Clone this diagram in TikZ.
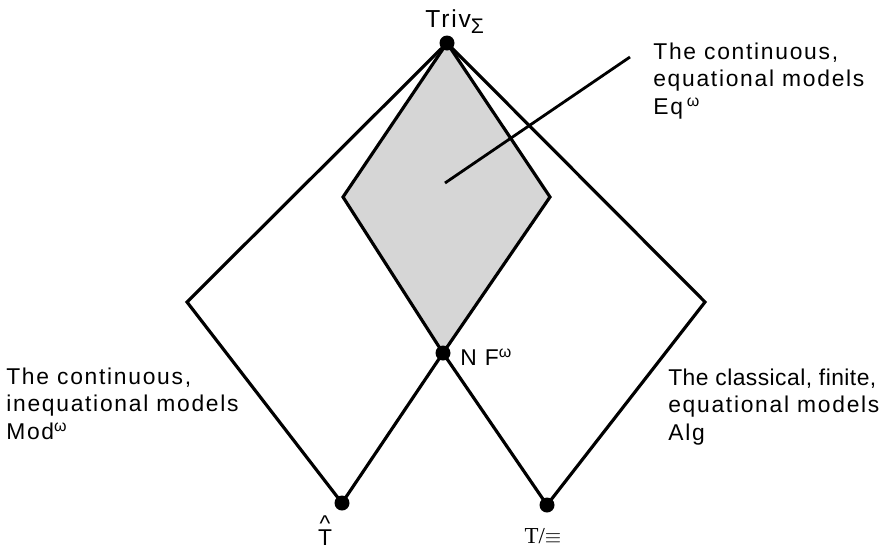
\documentclass[tikz,border=0pt]{standalone}
\usepackage{fontspec}
\setmainfont{Liberation Sans}[LetterSpace=7.5]
\newfontfamily\quotfont{Liberation Serif}
\usetikzlibrary{positioning}

\begin{document}
\begin{tikzpicture}[x=0.02cm, y=-0.02cm,
  edge/.style={line width=1.8pt, line join=miter},
  dot/.style={circle, fill=black, inner sep=0pt, minimum size=0.3cm},
  region/.style={fill=black!16},
  lab/.style={font=\fontsize{13}{15.4}\selectfont, inner sep=0pt},
  note/.style={lab, align=left, anchor=north west}
]
  \useasboundingbox (0,0) rectangle (893,552);
  % corners
  \coordinate (triv) at (447,43);
  \coordinate (nf) at (443,353);
  \coordinate (that) at (342,503);
  \coordinate (teq) at (547,505);
  \coordinate (lc) at (187,302);
  \coordinate (rc) at (705,302);
  \coordinate (il) at (343,197);
  \coordinate (ir) at (550,197);

  % shaded part: the continuous, equational models
  \fill[region] (triv) -- (il) -- (nf) -- (ir) -- cycle;

  % the two lattices
  \draw[edge] (triv) -- (lc) -- (that) -- (nf) -- (ir) -- cycle;
  \draw[edge] (triv) -- (rc) -- (teq) -- (nf) -- (il) -- cycle;

  % pointer
  \coordinate (eqin) at (445,183);
  \coordinate (eqtip) at (630,57);
  \draw[line width=1.6pt] (eqin) -- (eqtip);

  % dots
  \node[dot] (trivdot) at (triv) {};
  \node[dot] (nfdot) at (nf) {};
  \node[dot] (thatdot) at (that) {};
  \node[dot] (teqdot) at (teq) {};

  % labels
  \node[lab, font=\fontsize{14}{16}\selectfont, anchor=base west] (trivlab) at (425,27)
    {Triv\raisebox{-0.5ex}{\fontsize{12}{12}\selectfont Σ}};
  \node[lab, anchor=base west] (nflab) at (460,365) {N F\textsuperscript{ω}};
  \node[lab, anchor=base] (thatlab) at (325,545)
    {\ooalign{T\cr\hidewidth\raisebox{0.6em}{\^{}}\hidewidth\cr}};
  \node[lab, anchor=base] (teqlab) at (543,543) {\quotfont T/$\equiv$};

  \node[note] (eqtext) at (653,43) {The continuous,\\equational models\\Eq\,\textsuperscript{ω}};
  \node[note] (modtext) at (6,368) {The continuous,\\inequational models\\Mod\textsuperscript{ω}};
  \node[note] (algtext) at (668,369) {\addfontfeatures{LetterSpace=2}The classical, finite,\\equational models\\Alg};
\end{tikzpicture}
\end{document}
